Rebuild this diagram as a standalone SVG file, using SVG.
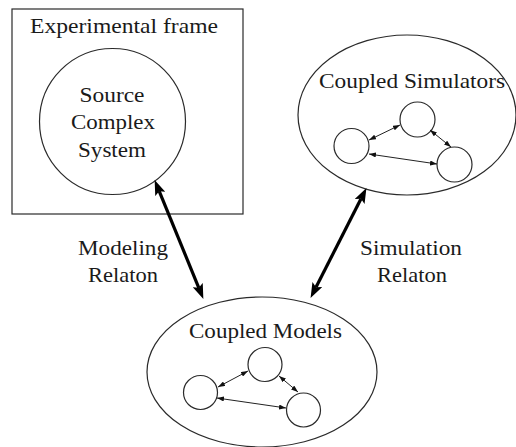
<svg xmlns="http://www.w3.org/2000/svg" width="516" height="447" viewBox="0 0 516 447">
<defs>
<style>
.shape{fill:none;stroke:#2a2a2a;stroke-width:1.2}
.small{fill:none;stroke:#222;stroke-width:1}
.thick{fill:none;stroke:#000;stroke-width:3.2}
text{font-family:"Liberation Serif","Times New Roman",serif;font-size:21px;fill:#1a1a1a}
</style>
<marker id="big" viewBox="0 0 15 11" markerUnits="userSpaceOnUse" markerWidth="15" markerHeight="11" refX="3" refY="5.5" orient="auto-start-reverse">
<path d="M0,0 L15,5.5 L0,11 L3,5.5 z" fill="#000"/>
</marker>
<marker id="sm" viewBox="0 0 7 5" markerUnits="userSpaceOnUse" markerWidth="7" markerHeight="5" refX="7" refY="2.5" orient="auto-start-reverse">
<path d="M0,0 L7,2.5 L0,5 z" fill="#111"/>
</marker>
</defs>
<rect width="516" height="447" fill="#fff"/>

<g id="experimental-frame">
<rect class="shape" x="12" y="9" width="231" height="205"/>
<text x="30" y="33" textLength="188" lengthAdjust="spacingAndGlyphs">Experimental frame</text>
</g>

<g id="source-system">
<circle class="shape" cx="112.5" cy="121.5" r="73"/>
<text x="112" y="102" text-anchor="middle" textLength="65" lengthAdjust="spacingAndGlyphs">Source</text>
<text x="113" y="129" text-anchor="middle" textLength="84" lengthAdjust="spacingAndGlyphs">Complex</text>
<text x="112" y="157" text-anchor="middle" textLength="68" lengthAdjust="spacingAndGlyphs">System</text>
</g>

<g id="coupled-simulators">
<ellipse class="shape" cx="407" cy="115" rx="109" ry="80"/>
<text x="319" y="88" textLength="186" lengthAdjust="spacingAndGlyphs">Coupled Simulators</text>
<circle class="shape" cx="417.5" cy="119.5" r="17.5"/>
<circle class="shape" cx="351.5" cy="146" r="17.5"/>
<circle class="shape" cx="454.5" cy="164.5" r="17.5"/>
</g>

<g id="coupled-models">
<ellipse class="shape" cx="262" cy="372" rx="115" ry="75"/>
<text x="189" y="338" textLength="153" lengthAdjust="spacingAndGlyphs">Coupled Models</text>
<circle class="shape" cx="265" cy="364.5" r="17"/>
<circle class="shape" cx="200.5" cy="392.5" r="17"/>
<circle class="shape" cx="303.5" cy="410" r="17"/>
</g>

<g id="labels">
<text x="78" y="255" textLength="90" lengthAdjust="spacingAndGlyphs">Modeling</text>
<text x="88" y="282" textLength="70" lengthAdjust="spacingAndGlyphs">Relaton</text>
<text x="360" y="255" textLength="102" lengthAdjust="spacingAndGlyphs">Simulation</text>
<text x="377" y="282" textLength="70" lengthAdjust="spacingAndGlyphs">Relaton</text>
</g>

<g id="connectors">
<line class="thick" x1="159.2" y1="191.2" x2="198.8" y2="287.8" marker-start="url(#big)" marker-end="url(#big)"/>
<line class="thick" x1="361" y1="198.8" x2="316" y2="287.2" marker-start="url(#big)" marker-end="url(#big)"/>
<line class="small" x1="369" y1="140" x2="400" y2="125" marker-start="url(#sm)" marker-end="url(#sm)"/>
<line class="small" x1="430" y1="130" x2="451" y2="147" marker-start="url(#sm)" marker-end="url(#sm)"/>
<line class="small" x1="369" y1="154" x2="437" y2="164" marker-start="url(#sm)" marker-end="url(#sm)"/>
<line class="small" x1="218" y1="387" x2="248" y2="371" marker-start="url(#sm)" marker-end="url(#sm)"/>
<line class="small" x1="279" y1="376" x2="298" y2="392" marker-start="url(#sm)" marker-end="url(#sm)"/>
<line class="small" x1="217" y1="398" x2="286" y2="408" marker-start="url(#sm)" marker-end="url(#sm)"/>
</g>
</svg>
